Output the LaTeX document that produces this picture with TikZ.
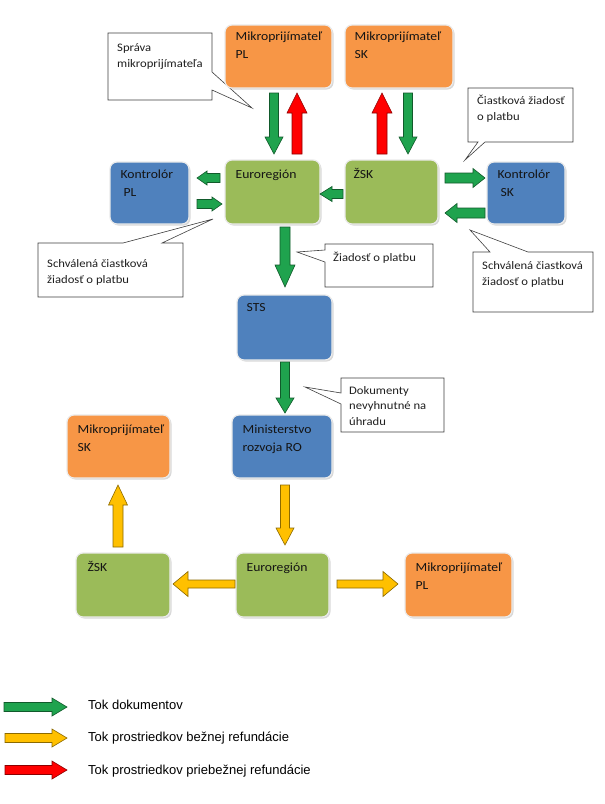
\documentclass[tikz,border=0pt]{standalone}
\usepackage{fontspec}
\setmainfont{Carlito}[FakeStretch=1.1]
\newfontfamily\legfont{Liberation Sans}
\usetikzlibrary{calc,shadows}
\definecolor{orangebox}{HTML}{F79646}
\definecolor{greenbox}{HTML}{9BBB59}
\definecolor{bluebox}{HTML}{4F81BD}
\definecolor{garrow}{HTML}{1FA34E}
\definecolor{yarrow}{HTML}{FFC000}
\definecolor{rarrow}{HTML}{FF0000}
% block arrow: color, from, to, shaft half width, head half width, head length
\newcommand\barrow[6]{%
  \draw[fill=#1, draw=#1!55!black, line width=0.6pt, line join=miter]
    let \p1=(#2), \p2=(#3), \n1={atan2(\y2-\y1,\x2-\x1)}, \n2={veclen(\x2-\x1,\y2-\y1)} in
    [shift={(\p1)}, rotate=\n1]
    (0,-#4) -- ({\n2-#6},-#4) -- ({\n2-#6},-#5) -- (\n2,0) -- ({\n2-#6},#5) -- ({\n2-#6},#4) -- (0,#4) -- cycle;}
% box: style, name, x1, y1, x2, y2
\newcommand\bbox[6]{%
  \node[#1, minimum width={#5-#3}, minimum height={#6-#4}] (#2) at ({(#3+#5)/2},{(#4+#6)/2}) {};}
\begin{document}
\begin{tikzpicture}[x=1pt,y=-1pt,
  bx/.style={rounded corners=7pt, draw=black!8, line width=1.2pt, inner sep=0pt,
    drop shadow={shadow xshift=1.5pt, shadow yshift=-1.5pt, opacity=0.3}},
  orng/.style={bx, fill=orangebox},
  grn/.style={bx, fill=greenbox},
  blu/.style={bx, fill=bluebox},
  btxt/.style={anchor=base west, inner sep=0pt, align=left, text=black!92,
    font=\fontsize{12.4}{17.5}\selectfont},
  ctxt/.style={anchor=base west, inner sep=0pt, align=left, text=black!88,
    font=\fontsize{11.5}{15.5}\selectfont},
  callout/.style={draw=black!75, line width=0.6pt, fill=white, line join=miter},
  ltxt/.style={anchor=base west, inner sep=0pt, font=\legfont\fontsize{13}{15}\selectfont}
]
\useasboundingbox (0,0) rectangle (605,804);
\fill[white] (0,0) rectangle (605,804);

% ---------- callouts (base anchor = baseline of last line) ----------
\draw[callout] (108,33) -- (212,33) -- (212,72) -- (252,108) -- (212,90) -- (212,100) -- (108,100) -- cycle;
\node[ctxt] (cAt) at (117,67) {Správa\\mikroprijímateľa};

\draw[callout] (468,88) -- (573,88) -- (573,142) -- (485,142) -- (465,160) -- (478,142) -- (468,142) -- cycle;
\node[ctxt] (cBt) at (477,120) {Čiastková žiadosť\\o platbu};

\draw[callout] (38,243) -- (123,243) -- (213,219) -- (162,243) -- (183,243) -- (183,297) -- (38,297) -- cycle;
\node[ctxt] (cCt) at (47,283) {Schválená čiastková\\žiadosť o platbu};

\draw[callout] (473,252) -- (490,252) -- (470,230) -- (528,252) -- (593,252) -- (593,312) -- (473,312) -- cycle;
\node[ctxt] (cDt) at (482,285) {Schválená čiastková\\žiadosť o platbu};

\draw[callout] (325,244) -- (433,244) -- (433,287) -- (325,287) -- (325,262) -- (297,252) -- (325,250) -- cycle;
\node[ctxt] (cEt) at (333,261) {Žiadosť o platbu};

\draw[callout] (341,378) -- (444,378) -- (444,432) -- (341,432) -- (341,404) -- (305,387) -- (341,393) -- cycle;
\node[ctxt] (cFt) at (349,425) {Dokumenty\\nevyhnutné na\\úhradu};

% ---------- boxes ----------
\bbox{orng}{mPLt}{225}{25}{332}{88}
\bbox{orng}{mSKt}{345}{25}{453}{88}
\bbox{blu}{kPL}{110}{162}{189}{224}
\bbox{grn}{eu}{225}{160}{320}{224}
\bbox{grn}{zsk}{345}{160}{438}{224}
\bbox{blu}{kSK}{487}{162}{565}{224}
\bbox{blu}{sts}{237}{295}{332}{360}
\bbox{blu}{min}{232}{415}{332}{478}
\bbox{orng}{mSKb}{67}{415}{170}{478}
\bbox{grn}{zskb}{76}{553}{170}{617}
\bbox{grn}{eub}{236}{553}{329}{617}
\bbox{orng}{mPLb}{405}{553}{512}{617}

\node[btxt] (mPLt-t) at ([shift={(11,34)}]mPLt.north west) {Mikroprijímateľ\\PL};
\node[btxt] (mSKt-t) at ([shift={(10,34)}]mSKt.north west) {Mikroprijímateľ\\SK};
\node[btxt] (kPL-t) at ([shift={(11,35)}]kPL.north west) {Kontrolór\\\hspace{3pt}PL};
\node[btxt] (eu-t) at ([shift={(11,19)}]eu.north west) {Euroregión};
\node[btxt] (zsk-t) at ([shift={(9,19)}]zsk.north west) {ŽSK};
\node[btxt] (kSK-t) at ([shift={(11,35)}]kSK.north west) {Kontrolór\\\hspace{3pt}SK};
\node[btxt] (sts-t) at ([shift={(10,17)}]sts.north west) {STS};
\node[btxt] (min-t) at ([shift={(11,37)}]min.north west) {Ministerstvo\\rozvoja RO};
\node[btxt] (mSKb-t) at ([shift={(11,37)}]mSKb.north west) {Mikroprijímateľ\\SK};
\node[btxt] (zskb-t) at ([shift={(12,19)}]zskb.north west) {ŽSK};
\node[btxt] (eub-t) at ([shift={(11,19)}]eub.north west) {Euroregión};
\node[btxt] (mPLb-t) at ([shift={(11,37)}]mPLb.north west) {Mikroprijímateľ\\PL};

% ---------- arrow end points ----------
\coordinate (g1s) at (274,93);  \coordinate (g1e) at (274,154);
\coordinate (r1s) at (297,154); \coordinate (r1e) at (297,93);
\coordinate (r2s) at (382,154); \coordinate (r2e) at (382,93);
\coordinate (g2s) at (408,93);  \coordinate (g2e) at (408,154);
\coordinate (g3s) at (220,178); \coordinate (g3e) at (197,178);
\coordinate (g4s) at (197,204); \coordinate (g4e) at (222,204);
\coordinate (g5s) at (343,194); \coordinate (g5e) at (320,194);
\coordinate (g6s) at (445,178); \coordinate (g6e) at (485,178);
\coordinate (g7s) at (485,213); \coordinate (g7e) at (445,213);
\coordinate (g8s) at (285,227); \coordinate (g8e) at (285,287);
\coordinate (g9s) at (285,362); \coordinate (g9e) at (285,413);
\coordinate (y1s) at (285,485); \coordinate (y1e) at (285,545);
\coordinate (y2s) at (235,584); \coordinate (y2e) at (173,584);
\coordinate (y3s) at (337,584); \coordinate (y3e) at (398,584);
\coordinate (y4s) at (118,547); \coordinate (y4e) at (118,485);

\barrow{garrow}{g1s}{g1e}{4.5}{9}{17}
\barrow{rarrow}{r1s}{r1e}{5}{10}{20}
\barrow{rarrow}{r2s}{r2e}{5}{10}{20}
\barrow{garrow}{g2s}{g2e}{4.5}{9}{17}
\barrow{garrow}{g3s}{g3e}{4.5}{7}{10}
\barrow{garrow}{g4s}{g4e}{4.5}{7}{10}
\barrow{garrow}{g5s}{g5e}{4.5}{7.5}{12}
\barrow{garrow}{g6s}{g6e}{5}{9.5}{12}
\barrow{garrow}{g7s}{g7e}{5}{9.5}{12}
\barrow{garrow}{g8s}{g8e}{5}{10}{22}
\barrow{garrow}{g9s}{g9e}{4.5}{9}{15}
\barrow{yarrow}{y1s}{y1e}{4.5}{9}{17}
\barrow{yarrow}{y2s}{y2e}{4}{12.5}{15}
\barrow{yarrow}{y3s}{y3e}{4}{12.5}{15}
\barrow{yarrow}{y4s}{y4e}{5}{9.5}{20}

% ---------- legend ----------
\coordinate (lgs) at (4,707);  \coordinate (lge) at (67,707);
\coordinate (lys) at (5,738);  \coordinate (lye) at (67,738);
\coordinate (lrs) at (5,770);  \coordinate (lre) at (67,770);
\barrow{garrow}{lgs}{lge}{4.5}{9}{15}
\barrow{yarrow}{lys}{lye}{4.5}{9}{15}
\barrow{rarrow}{lrs}{lre}{4.5}{9}{15}
\node[ltxt] (lg) at (88,709.5) {Tok dokumentov};
\node[ltxt] (ly) at (88,741.5) {Tok prostriedkov bežnej refundácie};
\node[ltxt] (lr) at (88,774.5) {Tok prostriedkov priebežnej refundácie};
\end{tikzpicture}
\end{document}
